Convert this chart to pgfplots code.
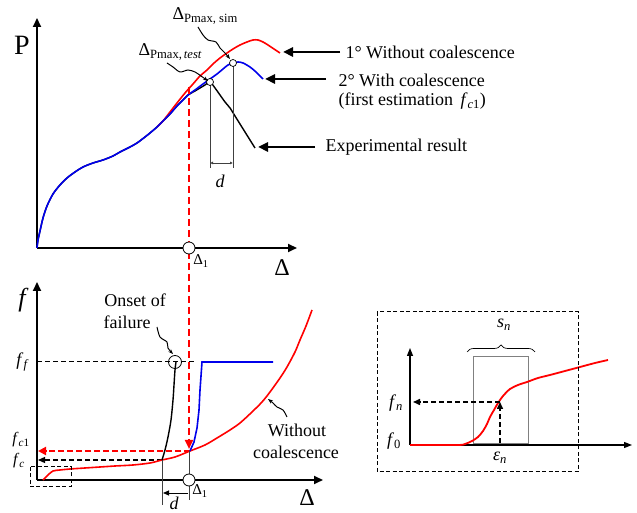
\documentclass[border=0pt]{standalone}
\usepackage{fontspec}
\setmainfont{Liberation Serif}
\usepackage{amsmath}
\usepackage{pgfplots}
\pgfplotsset{compat=1.18}
\usetikzlibrary{arrows.meta,decorations.pathreplacing}
\definecolor{cred}{RGB}{255,0,0}
\definecolor{cblue}{RGB}{0,0,235}
\newcommand\fs[1]{\fontsize{#1}{#1}\selectfont}
\begin{document}
\begin{tikzpicture}
\useasboundingbox (0,0) rectangle (637pt,513pt);
\pgfplotsset{panel/.style={x=1pt,y=1pt,anchor=south west,axis lines=left,ticks=none,clip=false,
  axis line style={line width=2pt,-{Triangle[length=9pt,width=8pt]}}}}
% ---------------- top panel: P vs Delta
\begin{axis}[panel,at={(37pt,265pt)},xmin=0,xmax=260,ymin=0,ymax=230]
\addplot[black,line width=1.4pt,smooth] coordinates {(0,0)(1,8)(3,17)(6,30)(10,42)(16,54)(23,63)(30,70)(38,76)(46,81)(56,85)(66,88)(76,92)(83,96)(93,101)(100,105)(108,111)(113,115)(120,121)(126,127)(133,134)(140,142)(146,148)(151,153)(158,157)(163,160)(168,163)(173,166)(178,160)(183,153)(188,146)(193,140)(198,132)(203,124)(208,116)(213,108)(218,100)};
\addplot[cred,line width=1.6pt,smooth] coordinates {(120,121)(126,127)(133,136)(140,145)(148,155)(156,164)(163,172)(170,178)(176,184)(183,190)(190,195)(196,199)(203,203)(210,206)(216,208)(221,208)(226,206)(231,203)(237,199)(243,195)};
\addplot[cblue,line width=1.6pt,smooth] coordinates {(0,0)(1,8)(3,17)(6,30)(10,42)(16,54)(23,63)(30,70)(38,76)(46,81)(56,85)(66,88)(76,92)(83,96)(93,101)(100,105)(108,111)(113,115)(120,121)(126,127)(133,134)(140,142)(146,148)(151,153)(158,158)(166,164)(173,169)(180,174)(186,179)(191,183)(196,185)(201,186)(206,185)(213,181)(219,176)(226,169)};
\addplot[black!75,line width=0.6pt] coordinates {(173,166)(173,80)};
\addplot[black!75,line width=0.6pt] coordinates {(196,185)(196,80)};
\addplot[black!75,line width=0.6pt,{Latex[length=3pt,width=3pt]}-{Latex[length=3pt,width=3pt]}] coordinates {(173,85)(196,85)};
\addplot[cred,line width=2.2pt,dash pattern=on 7pt off 4pt,-{Triangle[length=9pt,width=8pt]}] coordinates {(152,161)(152,-201)};
\addplot[only marks,mark=*,mark size=3.5pt,mark options={fill=white,draw=black,line width=0.7pt}] coordinates {(173,166)(196,185)};
\addplot[only marks,mark=*,mark size=6pt,mark options={fill=white,draw=black,line width=0.8pt}] coordinates {(152,0)};
\end{axis}
% ---------------- bottom panel: f vs Delta
\begin{axis}[panel,at={(37pt,33pt)},xmin=0,xmax=286,ymin=0,ymax=198]
\addplot[black,line width=1pt,dash pattern=on 5pt off 3pt] coordinates {(0,118)(158,118)};
\addplot[black,line width=1.2pt,dash pattern=on 5pt off 3pt,-{Triangle[length=7pt,width=6pt]}] coordinates {(125,20)(1,20)};
\addplot[cred,line width=2pt,dash pattern=on 6pt off 3pt,-{Triangle[length=8pt,width=8pt]}] coordinates {(153,29)(1,29)};
\addplot[cred,line width=1.6pt,smooth] coordinates {(6,0)(11,5)(16,9)(23,10)(33,11)(48,12)(63,13)(78,14)(96,15)(113,17)(125,20)(138,23)(153,29)(168,35)(180,42)(193,50)(203,57)(215,68)(225,78)(233,88)(243,102)(250,113)(258,128)(263,140)(269,154)(275,170)};
\addplot[black,line width=1.4pt,smooth] coordinates {(125,20)(128,30)(131,43)(134,60)(136,80)(137,95)(138,110)(139,118)};
\addplot[cblue,line width=1.6pt] coordinates {(153,29)(157,38)(160,52)(162,70)(163,90)(165,118)(236,118)};
\addplot[black!75,line width=0.6pt] coordinates {(125,20)(125,-25)};
\addplot[black!75,line width=0.6pt] coordinates {(152,29)(152,-20)};
\addplot[black,line width=0.8pt,-{Triangle[length=6pt,width=5pt]}] coordinates {(151,-13)(126,-13)};
\addplot[only marks,mark=o,mark size=6.5pt,mark options={draw=black,line width=0.8pt}] coordinates {(138,118)};
\addplot[only marks,mark=*,mark size=6pt,mark options={fill=white,draw=black,line width=0.8pt}] coordinates {(152,0)};
\end{axis}
% ---------------- inset: nucleation
\begin{axis}[panel,at={(410pt,68pt)},xmin=0,xmax=222,ymin=0,ymax=97,
  axis line style={line width=1.3pt,-{Triangle[length=8pt,width=6pt]}}]
\addplot[gray,line width=0.7pt] coordinates {(63,2)(63,89)(118,89)(118,2)(63,2)};
\addplot[cred,line width=1.8pt,smooth] coordinates {(0,0)(47,0)(55,1)(62,4)(68,8)(73,14)(77,21)(80,28)(84,35)(88,42)(93,49)(100,56)(108,60)(117,63)(128,67)(140,70)(155,74)(170,78)(185,82)(198,85)};
\addplot[black,line width=1.5pt,dash pattern=on 5pt off 3pt,-{Triangle[length=7pt,width=6pt]}] coordinates {(90,43)(3,43)};
\addplot[black,line width=1.5pt,dash pattern=on 5pt off 3pt,-{Triangle[length=7pt,width=6pt]}] coordinates {(90,2)(90,43)};
\draw[line width=0.7pt,decorate,decoration={brace,amplitude=7pt}] (axis cs:57,93) -- (axis cs:125,93);
\end{axis}
% ---------------- annotations (pixel frame)
\begin{scope}[x=1pt,y=-1pt,shift={(0pt,513pt)}]
\node[font=\fs{28}] at (22,45) {P};
\node[font=\fs{24}] at (282,268) {Δ};
\node[font=\fs{15}] at (201,261) {Δ$_{\text{1}}$};
\node[anchor=west,font=\fs{18}] at (169,16) {Δ$_{\text{Pmax, sim}}$};
\node[anchor=west,font=\fs{18}] at (135,52) {Δ$_{\text{Pmax,}\,\textit{test}}$};
\node[font=\itshape\fs{18}] at (220,181) {d};
\draw[line width=1pt,-{Stealth[length=5pt]}] plot[smooth] coordinates {(198,27)(203,35)(208,40)(216,42)(220,48)(225,53)(230,59)};
\draw[line width=1pt,-{Stealth[length=5pt]}] plot[smooth] coordinates {(167,63)(173,67)(180,72)(188,70)(195,72)(201,76)(208,81)};
\draw[line width=2.5pt,-{Triangle[length=10pt,width=9pt]}] (340,52) -- (283,52);
\draw[line width=2.5pt,-{Triangle[length=10pt,width=9pt]}] (326,79) -- (265,79);
\draw[line width=2.5pt,-{Triangle[length=10pt,width=9pt]}] (315,147) -- (258,147);
\node[anchor=west,font=\fs{18}] at (342,52) {1° Without coalescence};
\node[anchor=west,font=\fs{18}] at (335,80) {2° With coalescence};
\node[anchor=west,font=\fs{18}] at (335,101) {(first estimation \,\textit{f}$_{\textit{c}\text{1}}$)};
\node[anchor=west,font=\fs{18}] at (322,147) {Experimental result};
% bottom panel labels
\node[font=\itshape\fs{26}] at (22,300) {f};
\node[font=\fs{24}] at (307,498) {Δ};
\node[font=\fs{15}] at (200,491) {Δ$_{\text{1}}$};
\node[font=\fs{18}] at (22,362) {\textit{f}$_{\textit{f}}$};
\node[font=\fs{16},inner sep=0pt] at (21,440) {\textit{f}$_{\textit{c}\text{1}}$};
\node[font=\fs{16},inner sep=0pt] at (19,461) {\textit{f}$_{\textit{c}}$};
\node[font=\fs{18}] at (135,300) {Onset of};
\node[font=\fs{18}] at (127,322) {failure};
\node[font=\fs{18}] at (297,430) {Without};
\node[font=\fs{18}] at (296,452) {coalescence};
\node[font=\itshape\fs{18}] at (174,503) {d};
\draw[line width=1pt,-{Stealth[length=5pt]}] plot[smooth] coordinates {(157,327)(160,337)(167,342)(168,348)(173,354)};
\draw[line width=1pt,-{Stealth[length=5pt]}] plot[smooth] coordinates {(287,417)(283,410)(277,407)(273,403)(268,399)};
\draw[line width=1pt,dash pattern=on 4pt off 2.5pt] (30,467) rectangle (71,487);
% inset labels
\draw[line width=1pt,dash pattern=on 4pt off 2.5pt] (377,312) rectangle (578,472);
\node[font=\fs{18}] at (504,325) {\textit{s}$_{\textit{n}}$};
\node[font=\fs{18}] at (396,403) {\textit{f}$_{\textit{n}}$};
\node[font=\fs{18}] at (394,441) {\textit{f}$_{\text{0}}$};
\node[font=\fs{18}] at (500,458) {\textit{ε}$_{\textit{n}}$};
\end{scope}
\end{tikzpicture}
\end{document}
